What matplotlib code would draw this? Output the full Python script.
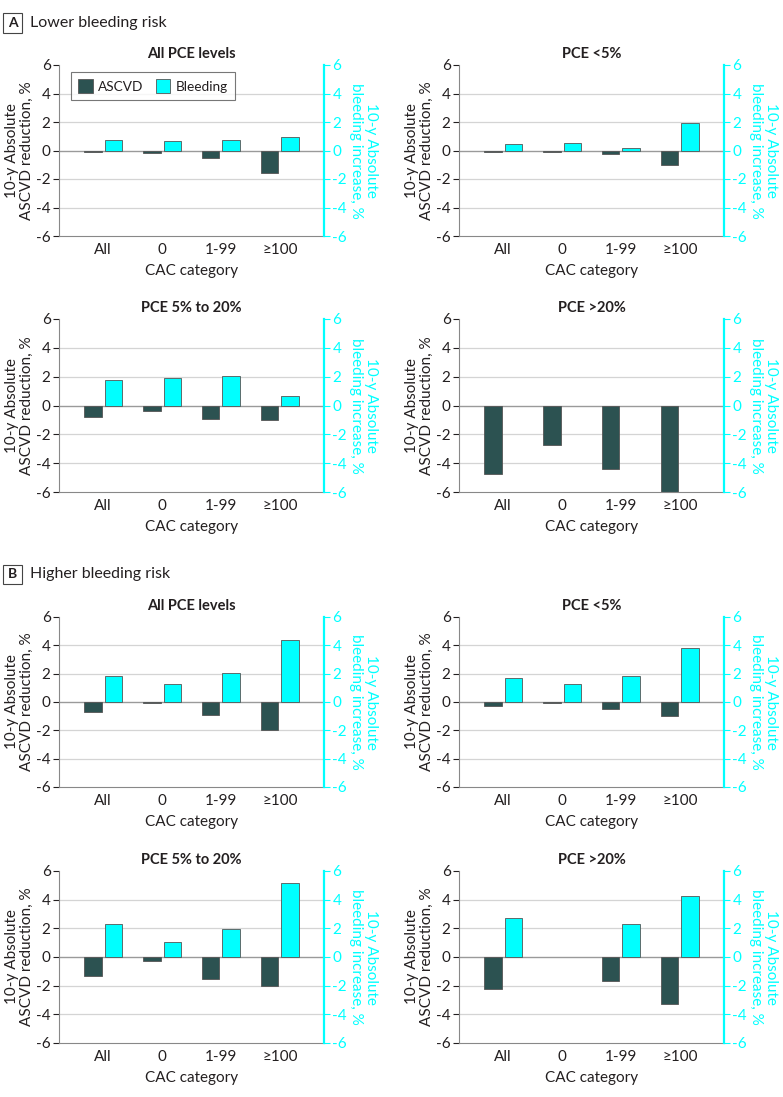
import numpy as np
import matplotlib
matplotlib.use("Agg")
import matplotlib.pyplot as plt
from matplotlib.patches import Rectangle

plt.rcParams['font.family'] = ['Lato', 'DejaVu Sans']
plt.rcParams['axes.unicode_minus'] = False

categories = ["All", "0", "1-99", "≥100"]
titles = ["All PCE levels", "PCE <5%", "PCE 5% to 20%", "PCE >20%"]

# Panel A: lower bleeding risk
A_ascvd = [
    [-0.1, -0.15, -0.5, -1.6],
    [-0.1, -0.1, -0.25, -1.0],
    [-0.8, -0.35, -0.93, -1.0],
    [-4.77, -2.75, -4.38, -6.0],
]
A_bleed = [
    [0.75, 0.66, 0.75, 0.92],
    [0.47, 0.56, 0.16, 1.93],
    [1.78, 1.94, 2.04, 0.65],
    [np.nan, np.nan, np.nan, np.nan],
]
# Panel B: higher bleeding risk
B_ascvd = [
    [-0.7, -0.1, -0.9, -2.0],
    [-0.3, -0.1, -0.5, -1.0],
    [-1.3, -0.3, -1.5, -2.0],
    [-2.23, np.nan, -1.67, -3.3],
]
B_bleed = [
    [1.86, 1.27, 2.05, 4.38],
    [1.67, 1.27, 1.86, 3.84],
    [2.3, 1.07, 1.98, 5.19],
    [2.74, np.nan, 2.33, 4.26],
]

DARK = "#2c5251"
CYAN = "#00ffff"
TXT = "#231f20"
GRID = "#d4d4d4"
FS = 10.5

W, H = 783, 1097
fig = plt.figure(figsize=(W / 100, H / 100), dpi=100)

col_x = [59, 459]
ax_w = 265
rows = [(65, 236), (319, 492), (617, 787), (871, 1043)]

panels = [(A_ascvd, A_bleed, 0), (B_ascvd, B_bleed, 2)]
x = np.arange(len(categories))
bw = 0.3
off = 0.175

first = True
for ascvd, bleed, r0 in panels:
    for i in range(4):
        r = r0 + i // 2
        c = i % 2
        top, bot = rows[r]
        ax = fig.add_axes([col_x[c] / W, 1 - bot / H, ax_w / W, (bot - top) / H])
        ax.set_xlim(-0.75, 3.75)
        ax.set_ylim(-6, 6)
        for yv in [-4, -2, 2, 4]:
            ax.axhline(yv, color=GRID, lw=0.9, zorder=0)
        ax.axhline(0, color="#9a9a9a", lw=1.0, zorder=1)
        b1 = ax.bar(x - off, ascvd[i], bw, color=DARK, edgecolor="#555555", lw=0.6, zorder=2, label="ASCVD")
        ax2 = ax.twinx()
        ax2.set_ylim(-6, 6)
        b2 = ax2.bar(x + off, bleed[i], bw, color=CYAN, edgecolor="#555555", lw=0.6, zorder=2, label="Bleeding")
        ax.set_yticks([-6, -4, -2, 0, 2, 4, 6])
        ax2.set_yticks([-6, -4, -2, 0, 2, 4, 6])
        ax.set_xticks(x)
        ax.set_xticklabels(categories, fontsize=FS + 0.5, color=TXT)
        ax.tick_params(axis='x', length=0, pad=5)
        ax.tick_params(axis='y', labelsize=FS + 0.5, colors=TXT, length=4, width=0.8, pad=2)
        ax2.tick_params(axis='y', labelsize=FS + 0.5, colors=CYAN, length=4, width=0.8, pad=2)
        ax.spines["top"].set_visible(False)
        ax2.spines["top"].set_visible(False)
        ax.spines["right"].set_visible(False)
        ax2.spines["left"].set_visible(False)
        ax2.spines["bottom"].set_visible(False)
        ax.spines["left"].set_color("#888888")
        ax.spines["bottom"].set_color("#888888")
        ax2.spines["right"].set_color(CYAN)
        ax2.spines["right"].set_linewidth(1.6)
        ax.set_title(titles[i], fontsize=FS, fontweight="bold", color=TXT, pad=5)
        ax.set_xlabel("CAC category", fontsize=FS + 0.5, color=TXT, labelpad=5)
        ax.set_ylabel("10-y Absolute\nASCVD reduction, %", fontsize=FS + 0.5, color=TXT,
                      linespacing=1.05, ha="center", va="center")
        ax.yaxis.set_label_coords(-0.15, 0.5)
        ax2.set_ylabel("10-y Absolute\nbleeding increase, %", fontsize=FS + 0.5, color=CYAN,
                       rotation=270, linespacing=1.05, ha="center", va="center")
        ax2.yaxis.set_label_coords(1.15, 0.5)
        if first:
            leg = ax.legend([b1, b2], ["ASCVD", "Bleeding"], loc="upper left",
                            bbox_to_anchor=(0.045, 0.959), borderaxespad=0,
                            ncol=2, fontsize=9.8,
                            frameon=True, fancybox=False, edgecolor="#555555",
                            handlelength=1.05, handleheight=1.1, columnspacing=0.9,
                            handletextpad=0.4, borderpad=0.55)
            leg.get_frame().set_linewidth(0.8)
            for t in leg.get_texts():
                t.set_color(TXT)
            first = False

# Section headers
def header(letter, text, y_center):
    fig.patches.append(Rectangle((3 / W, 1 - (y_center + 9.5) / H), 19 / W, 19 / H,
                                 transform=fig.transFigure, fill=False,
                                 edgecolor="#444444", lw=0.8))
    fig.text(12.5 / W, 1 - y_center / H, letter, fontsize=10, fontweight="bold",
             color=TXT, ha="center", va="center")
    fig.text(30 / W, 1 - y_center / H, text, fontsize=11.5, color=TXT,
             ha="left", va="center")

header("A", "Lower bleeding risk", 23)
header("B", "Higher bleeding risk", 574)

fig.savefig("out.png", dpi=100)
